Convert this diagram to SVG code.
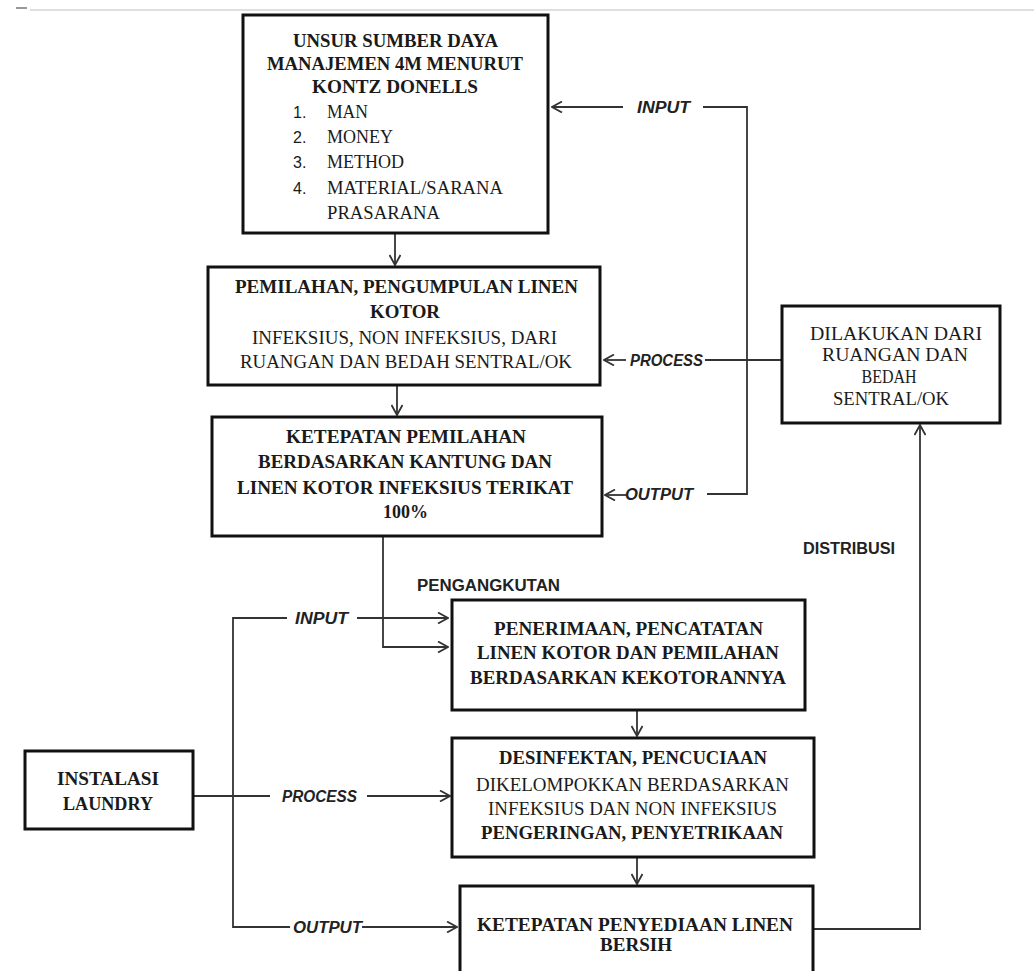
<svg xmlns="http://www.w3.org/2000/svg" width="1034" height="971" viewBox="0 0 1034 971">
<style>
.box{fill:#fff;stroke:#111;stroke-width:3}
.con{fill:none;stroke:#333;stroke-width:1.8}
.sb{font-family:"Liberation Serif","Times New Roman",serif;font-size:18px;font-weight:bold;fill:#1a1a1a;text-anchor:middle}
.sr{font-family:"Liberation Serif","Times New Roman",serif;font-size:18px;fill:#1a1a1a;text-anchor:middle}
.sl{font-family:"Liberation Serif","Times New Roman",serif;font-size:18px;fill:#1a1a1a}
.num{font-family:"Liberation Sans",Arial,sans-serif;font-size:16px;fill:#1a1a1a}
.lab{font-family:"Liberation Sans",Arial,sans-serif;font-size:16px;font-weight:bold;font-style:italic;fill:#222}
.lab2{font-family:"Liberation Sans",Arial,sans-serif;font-size:16px;font-weight:bold;fill:#222}
</style>
<defs>
<marker id="ah" viewBox="0 0 12 12" refX="11" refY="6" markerWidth="12" markerHeight="12" markerUnits="userSpaceOnUse" orient="auto">
<path d="M1,0.5 L11,6 L1,11.5" fill="none" stroke="#333" stroke-width="1.8"/>
</marker>
</defs>
<rect width="1034" height="971" fill="#fff"/>
<line x1="30" y1="10" x2="1034" y2="10" stroke="#d4d4d4" stroke-width="1.5"/>
<line x1="16" y1="8" x2="27" y2="8" stroke="#777" stroke-width="1.5"/>

<g id="connectors">
<path class="con" d="M395,233 V265" marker-end="url(#ah)"/>
<path class="con" d="M397,385 V415" marker-end="url(#ah)"/>
<path class="con" d="M383,536 V647 H448" marker-end="url(#ah)"/>
<path class="con" d="M703,107 H747 V494 H707"/>
<path class="con" d="M623,107 H552" marker-end="url(#ah)"/>
<path class="con" d="M782,360 H705"/>
<path class="con" d="M626,360 H604" marker-end="url(#ah)"/>
<path class="con" d="M626,495 H605" marker-end="url(#ah)"/>
<path class="con" d="M193,796 H270"/>
<path class="con" d="M287,618 H233 V927 H290"/>
<path class="con" d="M357,618 H448" marker-end="url(#ah)"/>
<path class="con" d="M367,796 H450" marker-end="url(#ah)"/>
<path class="con" d="M362,927 H457" marker-end="url(#ah)"/>
<path class="con" d="M637,710 V736" marker-end="url(#ah)"/>
<path class="con" d="M637,857 V884" marker-end="url(#ah)"/>
<path class="con" d="M813,929 H920 V425" marker-end="url(#ah)"/>
<text class="lab" x="637" y="113" textLength="53" lengthAdjust="spacingAndGlyphs">INPUT</text>
<text class="lab" x="630" y="366" textLength="73" lengthAdjust="spacingAndGlyphs">PROCESS</text>
<text class="lab" x="625" y="500" textLength="68" lengthAdjust="spacingAndGlyphs">OUTPUT</text>
<text class="lab" x="295" y="624" textLength="53" lengthAdjust="spacingAndGlyphs">INPUT</text>
<text class="lab" x="282" y="802" textLength="75" lengthAdjust="spacingAndGlyphs">PROCESS</text>
<text class="lab" x="293" y="933" textLength="69" lengthAdjust="spacingAndGlyphs">OUTPUT</text>
<text class="lab2" x="417" y="591" textLength="143" lengthAdjust="spacingAndGlyphs">PENGANGKUTAN</text>
<text class="lab2" x="803" y="554" textLength="92" lengthAdjust="spacingAndGlyphs">DISTRIBUSI</text>
</g>

<g id="unsur">
<rect class="box" x="243" y="15" width="305" height="218"/>
<text class="sb" x="395.5" y="47" textLength="205" lengthAdjust="spacingAndGlyphs">UNSUR SUMBER DAYA</text>
<text class="sb" x="395" y="70" textLength="256" lengthAdjust="spacingAndGlyphs">MANAJEMEN 4M MENURUT</text>
<text class="sb" x="395" y="93" textLength="166" lengthAdjust="spacingAndGlyphs">KONTZ DONELLS</text>
<text class="num" x="293" y="118">1.</text>
<text class="sl" x="327" y="118" textLength="41" lengthAdjust="spacingAndGlyphs">MAN</text>
<text class="num" x="293" y="143">2.</text>
<text class="sl" x="327" y="143" textLength="66" lengthAdjust="spacingAndGlyphs">MONEY</text>
<text class="num" x="293" y="168">3.</text>
<text class="sl" x="327" y="168" textLength="77" lengthAdjust="spacingAndGlyphs">METHOD</text>
<text class="num" x="293" y="194">4.</text>
<text class="sl" x="327" y="194" textLength="176" lengthAdjust="spacingAndGlyphs">MATERIAL/SARANA</text>
<text class="sl" x="327" y="219" textLength="113" lengthAdjust="spacingAndGlyphs">PRASARANA</text>
</g>

<g id="pemilahan">
<rect class="box" x="208" y="267" width="392" height="118"/>
<text class="sb" x="406.5" y="293" textLength="343" lengthAdjust="spacingAndGlyphs">PEMILAHAN, PENGUMPULAN  LINEN</text>
<text class="sb" x="405" y="318" textLength="70" lengthAdjust="spacingAndGlyphs">KOTOR</text>
<text class="sr" x="404.5" y="344" textLength="305" lengthAdjust="spacingAndGlyphs">INFEKSIUS, NON INFEKSIUS, DARI</text>
<text class="sr" x="406" y="368" textLength="332" lengthAdjust="spacingAndGlyphs">RUANGAN DAN BEDAH SENTRAL/OK</text>
</g>

<g id="ketepatan-pemilahan">
<rect class="box" x="212" y="417" width="390" height="119"/>
<text class="sb" x="406" y="443" textLength="240" lengthAdjust="spacingAndGlyphs">KETEPATAN PEMILAHAN</text>
<text class="sb" x="405" y="468" textLength="294" lengthAdjust="spacingAndGlyphs">BERDASARKAN KANTUNG DAN</text>
<text class="sb" x="405" y="494" textLength="336" lengthAdjust="spacingAndGlyphs">LINEN KOTOR INFEKSIUS TERIKAT</text>
<text class="sb" x="405.5" y="518" textLength="45" lengthAdjust="spacingAndGlyphs">100%</text>
</g>

<g id="dilakukan">
<rect class="box" x="782" y="306" width="218" height="117"/>
<text class="sr" x="896" y="340" textLength="172" lengthAdjust="spacingAndGlyphs">DILAKUKAN  DARI</text>
<text class="sr" x="895" y="361" textLength="146" lengthAdjust="spacingAndGlyphs">RUANGAN DAN</text>
<text class="sr" x="889" y="383" textLength="55" lengthAdjust="spacingAndGlyphs">BEDAH</text>
<text class="sr" x="891" y="405" textLength="116" lengthAdjust="spacingAndGlyphs">SENTRAL/OK</text>
</g>

<g id="penerimaan">
<rect class="box" x="452" y="600" width="353" height="110"/>
<text class="sb" x="628.5" y="635" textLength="269" lengthAdjust="spacingAndGlyphs">PENERIMAAN,  PENCATATAN</text>
<text class="sb" x="628" y="659" textLength="302" lengthAdjust="spacingAndGlyphs">LINEN KOTOR DAN PEMILAHAN</text>
<text class="sb" x="628" y="684" textLength="316" lengthAdjust="spacingAndGlyphs">BERDASARKAN  KEKOTORANNYA</text>
</g>

<g id="desinfektan">
<rect class="box" x="452" y="738" width="362" height="119"/>
<text class="sb" x="633" y="764" textLength="268" lengthAdjust="spacingAndGlyphs">DESINFEKTAN, PENCUCIAAN</text>
<text class="sr" x="632.5" y="791" textLength="313" lengthAdjust="spacingAndGlyphs">DIKELOMPOKKAN  BERDASARKAN</text>
<text class="sr" x="632.5" y="815" textLength="289" lengthAdjust="spacingAndGlyphs">INFEKSIUS DAN NON INFEKSIUS</text>
<text class="sb" x="632" y="839" textLength="302" lengthAdjust="spacingAndGlyphs">PENGERINGAN, PENYETRIKAAN</text>
</g>

<g id="penyediaan">
<rect class="box" x="460" y="886" width="353" height="100"/>
<text class="sb" x="635" y="931" textLength="316" lengthAdjust="spacingAndGlyphs">KETEPATAN PENYEDIAAN  LINEN</text>
<text class="sb" x="636" y="951" textLength="72" lengthAdjust="spacingAndGlyphs">BERSIH</text>
</g>

<g id="instalasi">
<rect class="box" x="25" y="751" width="168" height="78"/>
<text class="sb" x="108" y="785" textLength="102" lengthAdjust="spacingAndGlyphs">INSTALASI</text>
<text class="sb" x="108" y="810" textLength="90" lengthAdjust="spacingAndGlyphs">LAUNDRY</text>
</g>
</svg>
